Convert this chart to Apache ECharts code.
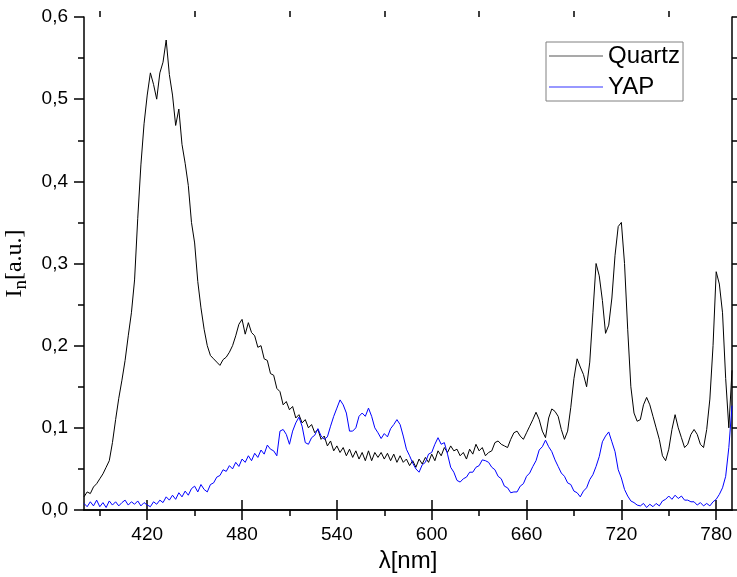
<!DOCTYPE html>
<html>
<head>
<meta charset="utf-8">
<script src="https://cdn.jsdelivr.net/npm/echarts@6/dist/echarts.min.js"></script>
<style>html,body{margin:0;padding:0;background:#fff;}#c{width:737px;height:577px;}</style>
</head>
<body>
<div id="c"></div>
<script>
// Wavelengths (nm)
const wavelengths = [
  380,382,384,386,388,390,392,394,396,398,
  400,402,404,406,408,410,412,414,416,418,
  420,422,424,426,428,430,432,434,436,438,
  440,442,444,446,448,450,452,454,456,458,
  460,462,464,466,468,470,472,474,476,478,
  480,482,484,486,488,490,492,494,496,498,
  500,502,504,506,508,510,512,514,516,518,
  520,522,524,526,528,530,532,534,536,538,
  540,542,544,546,548,550,552,554,556,558,
  560,562,564,566,568,570,572,574,576,578,
  580,582,584,586,588,590,592,594,596,598,
  600,602,604,606,608,610,612,614,616,618,
  620,622,624,626,628,630,632,634,636,638,
  640,642,644,646,648,650,652,654,656,658,
  660,662,664,666,668,670,672,674,676,678,
  680,682,684,686,688,690,692,694,696,698,
  700,702,704,706,708,710,712,714,716,718,
  720,722,724,726,728,730,732,734,736,738,
  740,742,744,746,748,750,752,754,756,758,
  760,762,764,766,768,770,772,774,776,778,
  780,782,784,786,788,790
];
// Quartz intensity (a.u.)
const quartz = [
  0.016,0.022,0.020,0.028,0.032,0.038,0.044,0.052,0.060,0.082,
  0.110,0.136,0.158,0.182,0.212,0.240,0.280,0.355,0.420,0.470,
  0.505,0.532,0.518,0.500,0.532,0.545,0.572,0.530,0.505,0.468,
  0.488,0.445,0.422,0.395,0.350,0.325,0.278,0.246,0.220,0.200,
  0.188,0.184,0.180,0.176,0.183,0.186,0.192,0.200,0.212,0.226,
  0.232,0.214,0.228,0.216,0.212,0.198,0.200,0.184,0.182,0.166,
  0.164,0.148,0.144,0.128,0.132,0.122,0.126,0.112,0.116,0.106,
  0.110,0.100,0.104,0.094,0.098,0.086,0.090,0.078,0.084,0.072,
  0.078,0.070,0.076,0.066,0.074,0.064,0.072,0.062,0.070,0.060,
  0.072,0.060,0.070,0.064,0.070,0.062,0.069,0.060,0.068,0.058,
  0.066,0.058,0.062,0.054,0.060,0.052,0.062,0.056,0.064,0.058,
  0.068,0.060,0.072,0.066,0.076,0.070,0.078,0.072,0.074,0.066,
  0.070,0.062,0.074,0.068,0.080,0.072,0.076,0.066,0.070,0.072,
  0.082,0.084,0.080,0.078,0.076,0.086,0.094,0.096,0.090,0.086,
  0.094,0.102,0.110,0.119,0.110,0.096,0.088,0.112,0.123,0.120,
  0.114,0.098,0.086,0.096,0.125,0.160,0.184,0.174,0.165,0.150,
  0.180,0.240,0.300,0.285,0.255,0.215,0.225,0.258,0.310,0.345,
  0.350,0.300,0.220,0.150,0.118,0.108,0.110,0.128,0.137,0.128,
  0.114,0.100,0.086,0.066,0.060,0.074,0.098,0.116,0.100,0.088,
  0.076,0.080,0.092,0.098,0.092,0.080,0.076,0.098,0.135,0.200,
  0.290,0.275,0.240,0.160,0.100,0.170
];
// YAP intensity (a.u.)
const yap = [
  0.008,0.004,0.010,0.005,0.012,0.004,0.009,0.003,0.011,0.006,
  0.010,0.005,0.009,0.012,0.006,0.010,0.007,0.011,0.005,0.009,
  0.006,0.004,0.010,0.007,0.012,0.009,0.016,0.012,0.018,0.013,
  0.021,0.016,0.023,0.018,0.026,0.029,0.022,0.031,0.025,0.022,
  0.031,0.033,0.040,0.042,0.049,0.047,0.054,0.050,0.058,0.053,
  0.062,0.058,0.066,0.060,0.069,0.064,0.073,0.068,0.079,0.074,
  0.072,0.066,0.096,0.098,0.092,0.080,0.096,0.106,0.113,0.102,
  0.082,0.080,0.088,0.091,0.099,0.090,0.086,0.089,0.102,0.114,
  0.124,0.134,0.128,0.118,0.096,0.096,0.100,0.114,0.118,0.114,
  0.124,0.114,0.100,0.094,0.087,0.093,0.089,0.099,0.104,0.110,
  0.104,0.090,0.074,0.066,0.057,0.050,0.046,0.055,0.058,0.068,
  0.070,0.080,0.088,0.080,0.082,0.068,0.052,0.046,0.036,0.034,
  0.038,0.040,0.046,0.046,0.052,0.054,0.061,0.060,0.058,0.052,
  0.049,0.041,0.038,0.029,0.027,0.021,0.022,0.022,0.029,0.032,
  0.041,0.045,0.053,0.060,0.073,0.077,0.085,0.077,0.071,0.061,
  0.053,0.045,0.041,0.033,0.031,0.023,0.021,0.016,0.023,0.027,
  0.037,0.043,0.053,0.065,0.083,0.090,0.095,0.083,0.071,0.049,
  0.039,0.025,0.017,0.011,0.009,0.006,0.005,0.008,0.003,0.007,
  0.004,0.008,0.005,0.011,0.013,0.017,0.013,0.018,0.014,0.017,
  0.012,0.012,0.010,0.010,0.006,0.009,0.005,0.008,0.005,0.010,
  0.013,0.019,0.027,0.041,0.076,0.127
];
const seriesNames = ['Quartz', 'YAP'];
const xMajorTicks = [420, 480, 540, 600, 660, 720, 780];
const xMinorTicks = [390, 450, 510, 570, 630, 690, 750];

const FONT = 'Liberation Sans, Arial, sans-serif';
const axisLineStyle = { show: true, lineStyle: { color: '#000', width: 1.5 } };
const gridRect = { left: 84, right: 5, top: 17, bottom: 67, outerBoundsMode: 'none', containLabel: false };
const xBase = { type: 'value', min: 380, max: 790, splitLine: { show: false } };
const yBase = { type: 'value', min: 0, max: 0.6, interval: 0.1, splitLine: { show: false } };

const chart = echarts.init(document.getElementById('c'), null, { renderer: 'canvas' });
chart.setOption({
  animation: false,
  backgroundColor: '#fff',
  grid: [Object.assign({}, gridRect), Object.assign({}, gridRect)],
  legend: {
    data: seriesNames.map(n => ({ name: n, icon: 'rect' })),
    orient: 'vertical',
    left: 546, top: 42,
    padding: [2, 3, 2, 3],
    borderColor: '#808080', borderWidth: 1,
    itemWidth: 54, itemHeight: 1, itemGap: 7,
    textStyle: { fontSize: 24, lineHeight: 24, color: '#000', fontFamily: FONT }
  },
  xAxis: [
    Object.assign({}, xBase, {
      gridIndex: 0, position: 'bottom',
      name: 'λ[nm]', nameLocation: 'middle', nameGap: 32,
      nameTextStyle: { fontSize: 24, color: '#000', fontFamily: FONT },
      axisLine: axisLineStyle,
      axisTick: { show: true, inside: false, length: 10, customValues: xMajorTicks, lineStyle: { color: '#000', width: 1.5 } },
      axisLabel: { show: true, customValues: xMajorTicks, margin: 15, fontSize: 19, color: '#000', fontFamily: FONT }
    }),
    Object.assign({}, xBase, {
      gridIndex: 0, position: 'top',
      axisLine: axisLineStyle,
      axisTick: { show: true, inside: false, length: 10, customValues: xMajorTicks, lineStyle: { color: '#000', width: 1.5 } },
      axisLabel: { show: false }
    }),
    Object.assign({}, xBase, {
      gridIndex: 1, position: 'bottom',
      axisLine: { show: false },
      axisTick: { show: true, inside: false, length: 6, customValues: xMinorTicks, lineStyle: { color: '#000', width: 1.5 } },
      axisLabel: { show: false }
    }),
    Object.assign({}, xBase, {
      gridIndex: 1, position: 'top',
      axisLine: { show: false },
      axisTick: { show: true, inside: false, length: 6, customValues: xMinorTicks, lineStyle: { color: '#000', width: 1.5 } },
      axisLabel: { show: false }
    })
  ],
  yAxis: [
    Object.assign({}, yBase, {
      gridIndex: 0, position: 'left',
      name: '{m|I}{s|n}{m|[a.u.]}', nameLocation: 'middle', nameGap: 43, nameRotate: 90,
      nameTextStyle: {
        color: '#000',
        rich: {
          m: { fontSize: 24, fontFamily: 'Liberation Serif, Times New Roman, serif', color: '#000' },
          s: { fontSize: 19, fontFamily: 'Liberation Serif, Times New Roman, serif', color: '#000', padding: [12, 0, 0, 0] }
        }
      },
      axisLine: axisLineStyle,
      axisTick: { show: true, inside: false, length: 10, lineStyle: { color: '#000', width: 1.5 } },
      minorTick: { show: true, splitNumber: 2, length: 6, lineStyle: { color: '#000', width: 1.5 } },
      axisLabel: { show: true, margin: 16, fontSize: 19, color: '#000', fontFamily: FONT,
        formatter: v => v.toFixed(1).replace('.', ',') }
    }),
    Object.assign({}, yBase, {
      gridIndex: 0, position: 'right',
      axisLine: axisLineStyle,
      axisTick: { show: true, inside: false, length: 10, lineStyle: { color: '#000', width: 1.5 } },
      minorTick: { show: true, splitNumber: 2, length: 6, lineStyle: { color: '#000', width: 1.5 } },
      axisLabel: { show: false }
    }),
    Object.assign({}, yBase, {
      gridIndex: 1, show: false
    })
  ],
  series: [
    {
      name: seriesNames[0], type: 'line', xAxisIndex: 0, yAxisIndex: 0,
      symbol: 'none', showSymbol: false,
      lineStyle: { color: '#000', width: 1 }, itemStyle: { color: '#555' },
      data: wavelengths.map((w, i) => [w, quartz[i]])
    },
    {
      name: seriesNames[1], type: 'line', xAxisIndex: 0, yAxisIndex: 0,
      symbol: 'none', showSymbol: false,
      lineStyle: { color: '#0000ff', width: 1 }, itemStyle: { color: '#3333ff' },
      data: wavelengths.map((w, i) => [w, yap[i]])
    }
  ]
});
</script>
</body>
</html>
